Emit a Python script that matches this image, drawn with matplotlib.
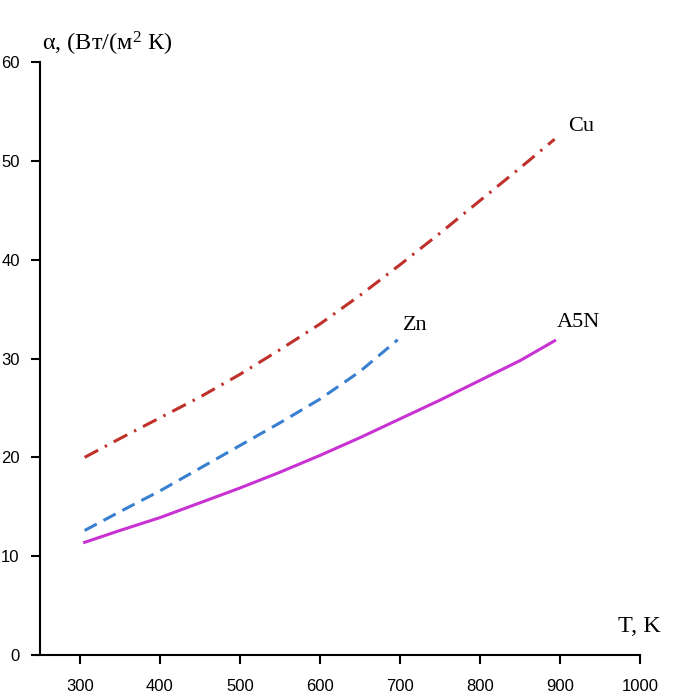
import matplotlib
matplotlib.use("Agg")
import matplotlib.pyplot as plt

plt.rcParams["mathtext.fontset"] = "custom"
plt.rcParams["mathtext.rm"] = "Liberation Serif"
plt.rcParams["mathtext.it"] = "Liberation Serif"

# data
cuT = [306, 350, 400, 450, 500, 550, 600, 650, 700, 750, 800, 850, 893]
cuAlpha = [20.0, 21.9, 24.0, 26.1, 28.4, 30.9, 33.5, 36.4, 39.5, 42.7, 46.0, 49.3, 52.2]

znT = [306, 350, 400, 450, 500, 550, 600, 650, 697]
znAlpha = [12.6, 14.5, 16.6, 18.9, 21.2, 23.5, 25.9, 28.7, 31.9]

a5nT = [306, 350, 400, 450, 500, 550, 600, 650, 700, 750, 800, 850, 893]
a5nAlpha = [11.4, 12.6, 13.9, 15.4, 16.9, 18.5, 20.2, 22.0, 23.9, 25.8, 27.8, 29.8, 31.8]

xTicks = [300, 400, 500, 600, 700, 800, 900, 1000]
yTicks = [0, 10, 20, 30, 40, 50, 60]

fig = plt.figure(figsize=(6.74, 6.98), dpi=100)
ax = fig.add_axes([0.059, 0.0616, 0.891, 0.8494])

ax.plot(cuT, cuAlpha, color="#c0302a", lw=2.2, linestyle=(0, (5, 2.5, 0.8, 2.5)))
ax.plot(znT, znAlpha, color="#3a80d0", lw=2.2, linestyle=(0, (4.5, 2.5)))
ax.plot(a5nT, a5nAlpha, color="#c832d2", lw=2.2)

serif = "Liberation Serif"
ax.text(910, 53.5, "Cu", family=serif, fontsize=16, ha="left", va="center")
ax.text(703, 33.3, "Zn", family=serif, fontsize=16, ha="left", va="center")
ax.text(896, 33.6, "A5N", family=serif, fontsize=16, ha="left", va="center")
ax.text(972, 2.9, "T, K", family=serif, fontsize=17.5, ha="left", va="center",
        clip_on=False)
ax.text(253, 61.8, r"$\alpha$, (Вт/(м$^{2}$ К)", family=serif, fontsize=17.5,
        ha="left", va="center", clip_on=False)

ax.set_xlim(250, 1000)
ax.set_ylim(0, 60)
ax.set_xticks(xTicks)
ax.set_yticks(yTicks)
ax.tick_params(direction="out", length=6.5, width=1.5, labelsize=12)
ax.tick_params(axis="x", pad=11)
ax.tick_params(axis="y", pad=8)
for lab in ax.get_xticklabels() + ax.get_yticklabels():
    lab.set_family("Liberation Sans")
for side in ["top", "right"]:
    ax.spines[side].set_visible(False)
for side in ["left", "bottom"]:
    ax.spines[side].set_linewidth(1.5)

fig.savefig("out.png", dpi=100)
